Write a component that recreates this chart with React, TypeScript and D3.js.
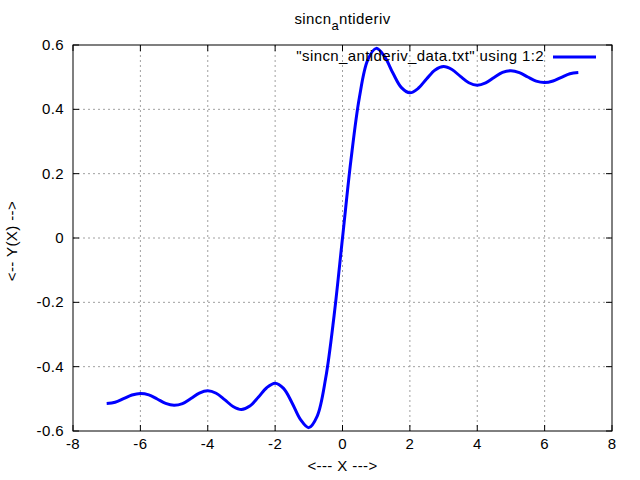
import { useEffect, useRef } from 'react';
import * as d3 from 'd3';

const xValues = [
  -7, -6.75, -6.5, -6.25, -6, -5.75, -5.5, -5.25, -5, -4.75, -4.5, -4.25, -4, -3.75, -3.5, -3.25,
  -3, -2.75, -2.5, -2.25, -2, -1.75, -1.5, -1.25, -1, -0.75, -0.5, -0.25, 0,
  0.25, 0.5, 0.75, 1, 1.25, 1.5, 1.75, 2, 2.25, 2.5, 2.75, 3, 3.25, 3.5, 3.75,
  4, 4.25, 4.5, 4.75, 5, 5.25, 5.5, 5.75, 6, 6.25, 6.5, 6.75, 7,
];
const yValues = [
  -0.5144, -0.5108, -0.4997, -0.4882, -0.4832, -0.4875, -0.5005, -0.5142, -0.5201, -0.515, -0.4991, -0.4823, -0.475, -0.4827, -0.5024, -0.5237,
  -0.5331, -0.5226, -0.4952, -0.4654, -0.4514, -0.4674, -0.5119, -0.5639, -0.5895, -0.5537, -0.4363, -0.2416, 0,
  0.2416, 0.4363, 0.5537, 0.5895, 0.5639, 0.5119, 0.4674, 0.4514, 0.4654, 0.4952, 0.5226, 0.5331, 0.5237, 0.5024, 0.4827,
  0.475, 0.4823, 0.4991, 0.515, 0.5201, 0.5142, 0.5005, 0.4875, 0.4832, 0.4882, 0.4997, 0.5108, 0.5144,
];
const xTicks = [-8, -6, -4, -2, 0, 2, 4, 6, 8];
const yTicks = [-0.6, -0.4, -0.2, 0, 0.2, 0.4, 0.6];

const FONT = '"Liberation Sans", Arial, sans-serif';
const FS = 15;
const LS = '0.4px';

export default function App() {
  const svgRef = useRef<SVGSVGElement>(null);

  useEffect(() => {
    document.body.style.margin = '0';
    if (!svgRef.current) return;
    const margin = { top: 45, right: 28, bottom: 49, left: 73 };
    const width = 640;
    const height = 480;
    const w = width - margin.left - margin.right;
    const h = height - margin.top - margin.bottom;

    const svg = d3.select(svgRef.current);
    svg.selectAll('*').remove();
    svg.append('rect').attr('width', width).attr('height', height).attr('fill', '#fff');

    const g = svg.append('g').attr('transform', `translate(${margin.left},${margin.top})`);
    const x = d3.scaleLinear().domain([-8, 8]).range([0, w]);
    const y = d3.scaleLinear().domain([-0.6, 0.6]).range([h, 0]);

    // Grid
    g.append('g')
      .selectAll('line')
      .data(xTicks.slice(1, -1))
      .join('line')
      .attr('x1', d => x(d)).attr('x2', d => x(d))
      .attr('y1', 0).attr('y2', h)
      .attr('stroke', '#a0a0a0')
      .attr('stroke-width', 1)
      .attr('stroke-dasharray', '2,3');
    g.append('g')
      .selectAll('line')
      .data(yTicks.slice(1, -1))
      .join('line')
      .attr('x1', 0).attr('x2', w)
      .attr('y1', d => y(d)).attr('y2', d => y(d))
      .attr('stroke', '#a0a0a0')
      .attr('stroke-width', 1)
      .attr('stroke-dasharray', '2,3');

    // Tick marks on all sides (mirrored, inward)
    const tl = 6;
    xTicks.forEach(t => {
      g.append('line').attr('x1', x(t)).attr('x2', x(t)).attr('y1', h).attr('y2', h - tl).attr('stroke', '#000');
      g.append('line').attr('x1', x(t)).attr('x2', x(t)).attr('y1', 0).attr('y2', tl).attr('stroke', '#000');
    });
    yTicks.forEach(t => {
      g.append('line').attr('x1', 0).attr('x2', tl).attr('y1', y(t)).attr('y2', y(t)).attr('stroke', '#000');
      g.append('line').attr('x1', w).attr('x2', w - tl).attr('y1', y(t)).attr('y2', y(t)).attr('stroke', '#000');
    });

    // Frame
    g.append('rect')
      .attr('x', 0).attr('y', 0).attr('width', w).attr('height', h)
      .attr('fill', 'none').attr('stroke', '#000').attr('stroke-width', 1);

    // Tick labels
    g.append('g')
      .selectAll('text')
      .data(xTicks)
      .join('text')
      .attr('x', d => x(d)).attr('y', h + 18)
      .attr('text-anchor', 'middle')
      .attr('font-family', FONT).attr('font-size', FS).attr('letter-spacing', LS)
      .text(d => `${d}`);
    g.append('g')
      .selectAll('text')
      .data(yTicks)
      .join('text')
      .attr('x', -9).attr('y', d => y(d) + 5)
      .attr('text-anchor', 'end')
      .attr('font-family', FONT).attr('font-size', FS).attr('letter-spacing', LS)
      .text(d => (d === 0 ? '0' : d.toFixed(1)));

    // Curve
    const pts = xValues.map((v, i) => [x(v), y(yValues[i])] as [number, number]);
    g.append('path')
      .attr('d', d3.line().curve(d3.curveCatmullRom)(pts))
      .attr('fill', 'none')
      .attr('stroke', '#0000ff')
      .attr('stroke-width', 3)
      .attr('stroke-linejoin', 'round');

    // Legend
    g.append('text')
      .attr('x', 544 - margin.left).attr('y', 61 - margin.top)
      .attr('text-anchor', 'end')
      .attr('font-family', FONT).attr('font-size', FS).attr('letter-spacing', LS)
      .text('"sincn_antideriv_data.txt" using 1:2');
    g.append('line')
      .attr('x1', 553 - margin.left).attr('x2', 596 - margin.left)
      .attr('y1', 57 - margin.top).attr('y2', 57 - margin.top)
      .attr('stroke', '#0000ff').attr('stroke-width', 3);

    // Title
    const title = svg.append('text')
      .attr('x', margin.left + w / 2).attr('y', 24)
      .attr('text-anchor', 'middle')
      .attr('font-family', FONT).attr('font-size', FS).attr('letter-spacing', LS);
    title.append('tspan').text('sincn');
    title.append('tspan').attr('font-size', 13).attr('dy', 6).text('a');
    title.append('tspan').attr('dy', -6).text('ntideriv');

    // Axis labels
    svg.append('text')
      .attr('x', margin.left + w / 2).attr('y', 471)
      .attr('text-anchor', 'middle')
      .attr('font-family', FONT).attr('font-size', FS).attr('letter-spacing', LS)
      .text('<--- X --->');
    svg.append('text')
      .attr('transform', `translate(17,241) rotate(-90)`)
      .attr('text-anchor', 'middle')
      .attr('font-family', FONT).attr('font-size', FS).attr('letter-spacing', LS)
      .text('<-- Y(X) -->');
  }, []);

  return (
    <svg ref={svgRef} width={640} height={480} style={{ display: 'block' }} />
  );
}
